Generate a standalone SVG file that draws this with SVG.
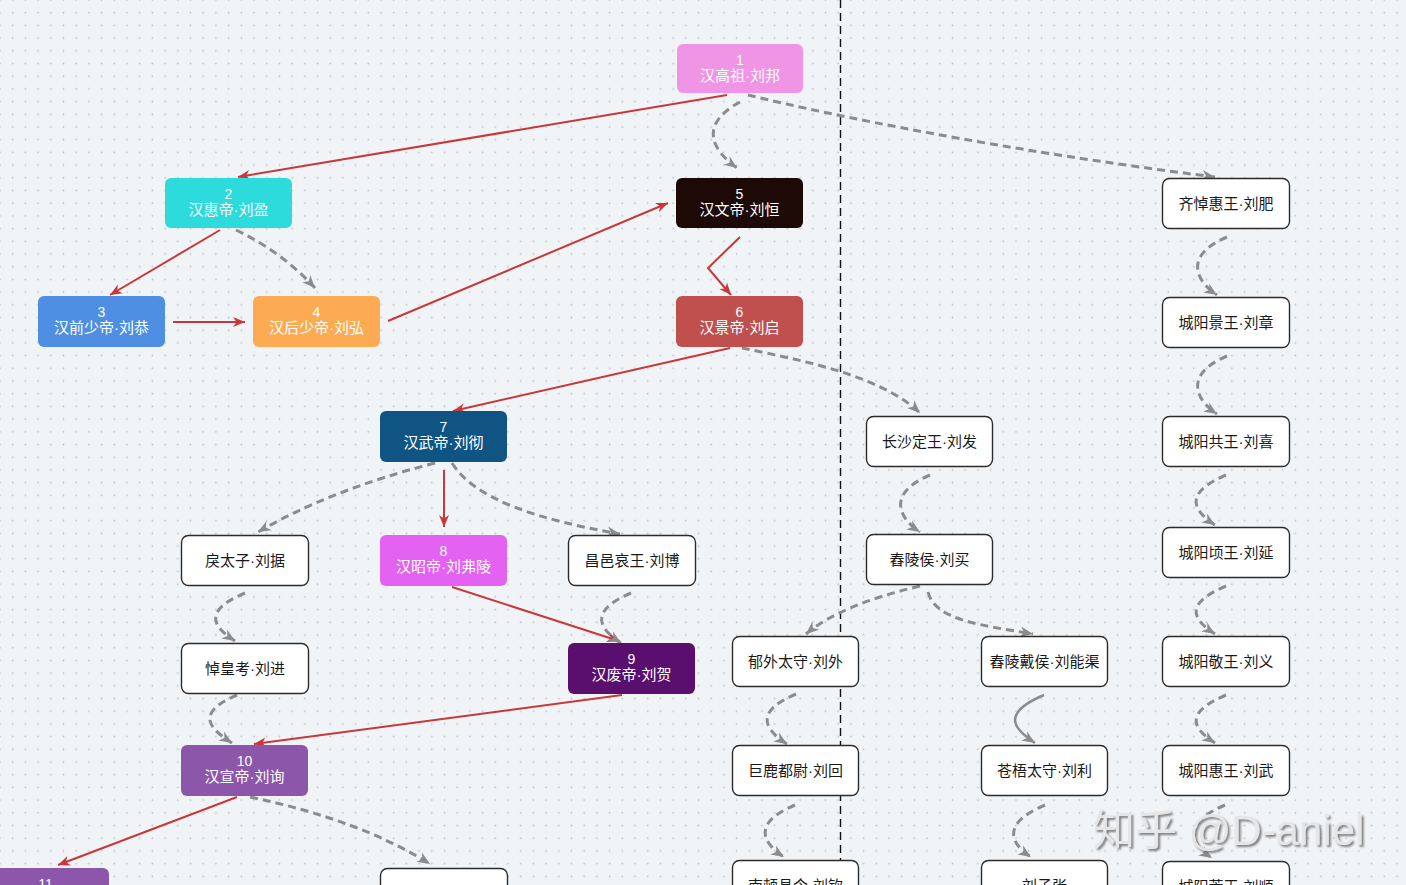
<svg xmlns="http://www.w3.org/2000/svg" width="1406" height="885" viewBox="0 0 1406 885">
<defs>
<pattern id="grid" x="6.35" y="6.35" width="12.7" height="12.7" patternUnits="userSpaceOnUse">
<circle cx="6.35" cy="6.35" r="0.9" fill="#bcc2ca"/>
</pattern>
<marker id="ar" viewBox="0 0 14 12" markerWidth="14" markerHeight="12" refX="13" refY="6" orient="auto" markerUnits="userSpaceOnUse">
<path d="M1,1 L13,6 L1,11 L4.5,6 Z" fill="#C8383A"/>
</marker>
<marker id="ag" viewBox="0 0 14 12" markerWidth="15" markerHeight="13" refX="13" refY="6" orient="auto" markerUnits="userSpaceOnUse">
<path d="M1,1 L13,6 L1,11 L4.5,6 Z" fill="#8C8C8C"/>
</marker>
<filter id="sh" x="-10%" y="-20%" width="120%" height="150%">
<feDropShadow dx="2" dy="2" stdDeviation="0.8" flood-color="#6e6e6e" flood-opacity="0.9"/>
</filter>
<style>
.num{font-family:"Liberation Sans","Noto Sans CJK SC",sans-serif;font-size:14px;fill:#ffffff;text-anchor:middle}
.nm{font-family:"Liberation Sans","Noto Sans CJK SC",sans-serif;font-size:15px;fill:#ffffff;text-anchor:middle}
.wt{font-family:"Liberation Sans","Noto Sans CJK SC",sans-serif;font-size:15px;fill:#1a1a1a;text-anchor:middle}
.wb{fill:#ffffff;stroke:#2b2b2b;stroke-width:1.4}
.red{fill:none;stroke:#C8383A;stroke-width:2;marker-end:url(#ar)}
.gd{fill:none;stroke:#8C8C8C;stroke-width:3;stroke-dasharray:8 5;marker-end:url(#ag)}
.gs{fill:none;stroke:#8C8C8C;stroke-width:2.5;marker-end:url(#ag)}
</style>
</defs>
<rect width="1406" height="885" fill="#F1F4F7"/>
<rect width="1406" height="885" fill="url(#grid)"/>
<line x1="840.5" y1="0" x2="840.5" y2="885" stroke="#111" stroke-width="1.4" stroke-dasharray="8 5"/>

<g id="edges">
<path class="red" d="M727,95 L238,177"/>
<path class="red" d="M220,230 L110,295"/>
<path class="red" d="M173,322 L245,322"/>
<path class="red" d="M388,321 L668,203"/>
<path class="red" d="M740,237 L708,268 L731,295"/>
<path class="red" d="M730,348 L453,411"/>
<path class="red" d="M444,470 L444,527"/>
<path class="red" d="M452,587 L619,641"/>
<path class="red" d="M622,695 L254,744"/>
<path class="red" d="M237,797 L58,865"/>

<path class="gd" d="M740,102 C698,125 712,150 737,168"/>
<path class="gd" d="M748,95 C830,115 1000,150 1215,177"/>
<path class="gd" d="M236,230 Q282,252 315,288"/>
<path class="gd" d="M742,348 C800,360 880,375 920,413"/>
<path class="gd" d="M435,463 Q330,490 258,532"/>
<path class="gd" d="M452,463 C475,500 540,520 620,534"/>
<path class="gd" d="M245,593 C200,612 215,628 235,641"/>
<path class="gd" d="M631,593 C586,612 601,630 621,643"/>
<path class="gd" d="M237,695 C192,714 212,730 232,743"/>
<path class="gd" d="M250,797 Q360,820 430,864"/>
<path class="gd" d="M930,475 C885,494 900,519 920,532"/>
<path class="gd" d="M920,586 Q840,605 806,634"/>
<path class="gd" d="M928,592 C935,620 980,625 1033,634"/>
<path class="gd" d="M796,694 C751,713 767,731 787,744"/>
<path class="gd" d="M795,805 C750,824 764,844 784,857"/>
<path class="gd" d="M1045,805 C1000,824 1011,844 1031,857"/>
<path class="gd" d="M1227,237 C1182,256 1197,282 1217,295"/>
<path class="gd" d="M1227,356 C1182,375 1197,401 1217,414"/>
<path class="gd" d="M1226,475 C1181,494 1195,512 1215,525"/>
<path class="gd" d="M1226,586 C1181,605 1195,621 1215,634"/>
<path class="gd" d="M1226,695 C1181,714 1195,730 1215,743"/>
<path class="gd" d="M1225,805 C1180,824 1192,845 1212,858"/>
<path class="gs" d="M1044,695 C999,714 1015,730 1035,743"/>
</g>

<g id="n1"><rect x="677" y="44" width="126" height="49" rx="6" fill="#F095E5"/><text class="num" x="740" y="65">1</text><text class="nm" x="740" y="81">汉高祖·刘邦</text></g>
<g id="n2"><rect x="165" y="178" width="127" height="50" rx="6" fill="#2DDADC"/><text class="num" x="228.5" y="199">2</text><text class="nm" x="228.5" y="215">汉惠帝·刘盈</text></g>
<g id="n3"><rect x="38" y="296" width="127" height="51" rx="6" fill="#4E8FE3"/><text class="num" x="101.5" y="317">3</text><text class="nm" x="101.5" y="333">汉前少帝·刘恭</text></g>
<g id="n4"><rect x="253" y="296" width="127" height="51" rx="6" fill="#FDAB52"/><text class="num" x="316.5" y="317">4</text><text class="nm" x="316.5" y="333">汉后少帝·刘弘</text></g>
<g id="n5"><rect x="676" y="178" width="127" height="50" rx="6" fill="#1D0A06"/><text class="num" x="739.5" y="199">5</text><text class="nm" x="739.5" y="215">汉文帝·刘恒</text></g>
<g id="n6"><rect x="676" y="296" width="127" height="51" rx="6" fill="#C0504E"/><text class="num" x="739.5" y="317">6</text><text class="nm" x="739.5" y="333">汉景帝·刘启</text></g>
<g id="n7"><rect x="380" y="411" width="127" height="51" rx="6" fill="#0F5482"/><text class="num" x="443.5" y="432">7</text><text class="nm" x="443.5" y="448">汉武帝·刘彻</text></g>
<g id="n8"><rect x="380" y="535" width="127" height="51" rx="6" fill="#E362F1"/><text class="num" x="443.5" y="556">8</text><text class="nm" x="443.5" y="572">汉昭帝·刘弗陵</text></g>
<g id="n9"><rect x="568" y="643" width="127" height="51" rx="6" fill="#5A0E6D"/><text class="num" x="631.5" y="664">9</text><text class="nm" x="631.5" y="680">汉废帝·刘贺</text></g>
<g id="n10"><rect x="181" y="745" width="127" height="51" rx="6" fill="#8C56AA"/><text class="num" x="244.5" y="766">10</text><text class="nm" x="244.5" y="782">汉宣帝·刘询</text></g>
<g id="n11"><rect x="-18" y="868" width="127" height="51" rx="6" fill="#8C56AA"/><text class="num" x="45.5" y="889">11</text></g>

<g id="w_fei"><rect class="wb" x="1162.5" y="178.5" width="127" height="50" rx="7"/><text class="wt" x="1226" y="209">齐悼惠王·刘肥</text></g>
<g id="w_zhang"><rect class="wb" x="1162.5" y="297.5" width="127" height="50" rx="7"/><text class="wt" x="1226" y="328">城阳景王·刘章</text></g>
<g id="w_xi"><rect class="wb" x="1162.5" y="416.5" width="127" height="50" rx="7"/><text class="wt" x="1226" y="447">城阳共王·刘喜</text></g>
<g id="w_yan"><rect class="wb" x="1162.5" y="527.5" width="127" height="50" rx="7"/><text class="wt" x="1226" y="558">城阳顷王·刘延</text></g>
<g id="w_yi"><rect class="wb" x="1162.5" y="636.5" width="127" height="50" rx="7"/><text class="wt" x="1226" y="667">城阳敬王·刘义</text></g>
<g id="w_wu"><rect class="wb" x="1162.5" y="745.5" width="127" height="50" rx="7"/><text class="wt" x="1226" y="776">城阳惠王·刘武</text></g>
<g id="w_shun"><rect class="wb" x="1162.5" y="861.5" width="127" height="50" rx="7"/><text class="wt" x="1226" y="892">城阳荒王·刘顺</text></g>
<g id="w_fa"><rect class="wb" x="866.5" y="416.5" width="126" height="50" rx="7"/><text class="wt" x="929.5" y="447">长沙定王·刘发</text></g>
<g id="w_mai"><rect class="wb" x="866.5" y="534.5" width="126" height="50" rx="7"/><text class="wt" x="929.5" y="565">舂陵侯·刘买</text></g>
<g id="w_wai"><rect class="wb" x="732.5" y="636.5" width="126" height="50" rx="7"/><text class="wt" x="795.5" y="667">郁外太守·刘外</text></g>
<g id="w_nengqu"><rect class="wb" x="981.5" y="636.5" width="126" height="50" rx="7"/><text class="wt" x="1044.5" y="667">舂陵戴侯·刘能渠</text></g>
<g id="w_hui"><rect class="wb" x="732.5" y="745.5" width="126" height="50" rx="7"/><text class="wt" x="795.5" y="776">巨鹿都尉·刘回</text></g>
<g id="w_li"><rect class="wb" x="981.5" y="745.5" width="126" height="50" rx="7"/><text class="wt" x="1044.5" y="776">苍梧太守·刘利</text></g>
<g id="w_qin"><rect class="wb" x="732.5" y="860.5" width="126" height="50" rx="7"/><text class="wt" x="795.5" y="891">南顿县令·刘钦</text></g>
<g id="w_zizhang"><rect class="wb" x="981.5" y="860.5" width="126" height="50" rx="7"/><text class="wt" x="1044.5" y="891">刘子张</text></g>
<g id="w_ju"><rect class="wb" x="181.5" y="535.5" width="127" height="50" rx="7"/><text class="wt" x="245" y="566">戾太子·刘据</text></g>
<g id="w_jin"><rect class="wb" x="181.5" y="643.5" width="127" height="50" rx="7"/><text class="wt" x="245" y="674">悼皇考·刘进</text></g>
<g id="w_bo"><rect class="wb" x="568.5" y="535.5" width="127" height="50" rx="7"/><text class="wt" x="632" y="566">昌邑哀王·刘博</text></g>
<g id="w_bottom"><rect class="wb" x="380.5" y="868.5" width="127" height="50" rx="7"/></g>

<g id="watermark"><text x="1093" y="845" font-family="Liberation Sans,'Noto Sans CJK SC',sans-serif" font-size="42" fill="#e6e6e6" filter="url(#sh)">知乎 @D-aniel</text></g>
</svg>
